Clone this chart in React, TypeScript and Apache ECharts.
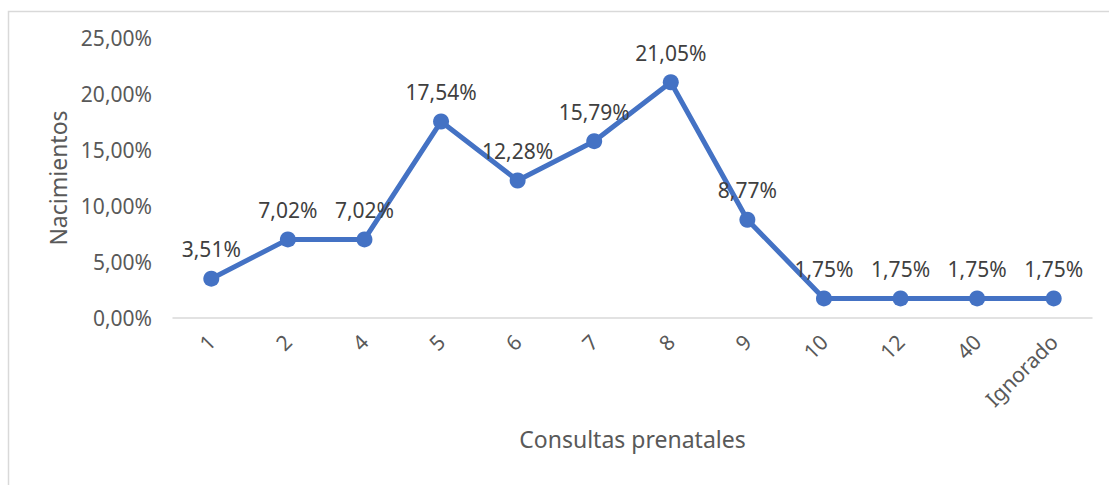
import React, { useEffect, useRef } from "react";
import * as echarts from "echarts";

const categories = ["1", "2", "4", "5", "6", "7", "8", "9", "10", "12", "40", "Ignorado"];
const values = [3.51, 7.02, 7.02, 17.54, 12.28, 15.79, 21.05, 8.77, 1.75, 1.75, 1.75, 1.75];
const yTicks = { min: 0, max: 25, interval: 5 };
const xName = "Consultas prenatales";
const yName = "Nacimientos";

const fmt = (v: number) => v.toFixed(2).replace(".", ",") + "%";

export default function App() {
  const ref = useRef<HTMLDivElement>(null);
  useEffect(() => {
    if (!ref.current) return;
    const chart = echarts.init(ref.current, undefined, { renderer: "svg" });
    const font = "'Noto Sans', 'Open Sans', sans-serif";
    chart.setOption({
      animation: false,
      textStyle: { fontFamily: font },
      graphic: [
        {
          type: "rect",
          left: 6,
          top: 9,
          shape: { width: 1120, height: 500 },
          style: { fill: "none", stroke: "#d9d9d9", lineWidth: 1.5 },
          silent: true,
        },
      ],
      grid: { left: 173, right: 17, top: 38, bottom: 167 },
      xAxis: {
        type: "category",
        data: categories,
        name: xName,
        nameLocation: "middle",
        nameGap: 109,
        nameTextStyle: { fontSize: 23, color: "#595959", fontFamily: font },
        axisLine: { lineStyle: { color: "#d9d9d9", width: 1.5 } },
        axisTick: { show: false },
        axisLabel: { rotate: 45, fontSize: 21, color: "#595959", margin: 20, fontFamily: font },
      },
      yAxis: {
        type: "value",
        min: yTicks.min,
        max: yTicks.max,
        interval: yTicks.interval,
        name: yName,
        nameLocation: "middle",
        nameGap: 103,
        nameTextStyle: { fontSize: 23, color: "#595959", fontFamily: font },
        splitLine: { show: false },
        axisLine: { show: false },
        axisTick: { show: false },
        axisLabel: {
          fontSize: 21,
          color: "#595959",
          margin: 21,
          fontFamily: font,
          formatter: (v: number) => fmt(v),
        },
      },
      series: [
        {
          type: "line",
          data: values,
          symbol: "circle",
          symbolSize: 16,
          lineStyle: { color: "#4472C4", width: 5 },
          itemStyle: { color: "#4472C4" },
          label: {
            show: true,
            position: "top",
            distance: 11,
            fontSize: 21,
            color: "#404040",
            fontFamily: font,
            formatter: (p: any) => fmt(p.value),
          },
        },
      ],
    });
    return () => chart.dispose();
  }, []);
  return (
    <div
      ref={ref}
      style={{ position: "fixed", left: 0, top: 0, width: 1109, height: 485, background: "#fff" }}
    />
  );
}
